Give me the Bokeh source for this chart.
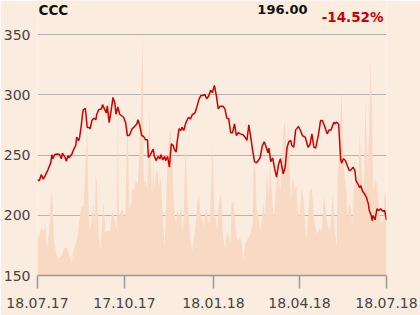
import pandas as pd
from bokeh.plotting import figure
from bokeh.models import Range1d, FixedTicker, DatetimeTickFormatter, Label
from bokeh.embed import file_html
from bokeh.resources import INLINE

# ---- data ----
start_date = "2017-07-18"
end_date = "2018-07-18"
title_text = "CCC"
last_price_text = "196.00"
change_text = "-14.52%"

price_days = [0, 2, 4, 6, 8, 11, 14, 15, 16, 18, 21, 23, 25, 26, 29, 30, 32, 33, 36, 38,
              40, 41, 43, 44, 46, 47, 48, 50, 52, 54, 55, 57, 59, 61, 62, 64, 67, 68, 70, 72,
              73, 75, 77, 79, 81, 82, 84, 86, 90, 92, 94, 96, 99, 101, 104, 105, 107, 109, 111, 113,
              115, 116, 118, 121, 122, 124, 126, 128, 129, 131, 133, 134, 136, 138, 139, 140, 142, 143, 145, 146,
              148, 150, 151, 153, 155, 157, 158, 160, 162, 163, 165, 167, 169, 171, 173, 175, 177, 179, 181, 183,
              185, 187, 189, 191, 194, 196, 198, 200, 202, 204, 206, 208, 210, 212, 215, 217, 219, 221, 223, 225,
              227, 229, 231, 233, 235, 237, 238, 241, 242, 244, 246, 248, 250, 252, 254, 257, 259, 261, 263, 265,
              266, 268, 270, 273, 275, 277, 280, 283, 285, 287, 289, 291, 294, 296, 298, 300, 303, 305, 307, 310,
              311, 313, 315, 317, 318, 320, 322, 324, 326, 328, 330, 332, 333, 335, 337, 338, 340, 342, 344, 346,
              347, 349, 350, 351, 353, 355, 357, 359, 361, 363, 365]
price = [229.3, 229, 234, 230, 233, 238, 244, 250.5, 247, 250.5, 251, 250.5, 247, 251.6, 248, 245, 249.7, 247.8, 251, 255,
         258, 265, 262, 264.5, 276, 284, 287.7, 289, 273, 273, 272, 279, 280.7, 279.4, 284, 287.7, 288.5, 292, 288.5, 285,
         291, 277, 287, 298, 292.7, 284, 290, 284, 281.5, 277.4, 266.3, 266.3, 272, 273.3, 276, 279.4, 274.6, 266.3, 265.5, 262.7,
         262.7, 248, 250.5, 255, 249.7, 245.5, 248.9, 247, 250.5, 246, 248.9, 245.5, 248.9, 240, 251, 259.4, 258, 255, 252.5, 260.8,
         272, 270.5, 273.3, 270.5, 276.6, 280, 281.5, 280, 284, 284, 285.7, 291, 296.8, 299.6, 299.6, 300.4, 297, 299, 304, 302,
         308, 299.6, 288.5, 290.7, 290.7, 288.5, 280.7, 280.2, 268.6, 268.6, 276, 266.3, 268.6, 267.7, 266.9, 264.9, 262.2, 275.2, 264.9, 253.9,
         244.7, 243.6, 245.5, 248.3, 257.4, 261, 259.4, 252, 255.8, 244.7, 247.5, 238.8, 231.7, 242, 247, 234.5, 240, 256.6, 261.3, 262,
         258, 256.6, 271, 273.8, 270.5, 266.3, 264.9, 256.6, 258.8, 267.7, 256.6, 256, 267.7, 278.8, 278.8, 274.6, 267.7, 271, 271, 277.4,
         276, 277.4, 275.5, 247, 243.4, 247, 245.5, 241.4, 237.2, 237.8, 240, 237.2, 229, 226.2, 222.9, 224.8, 220, 217.9, 215, 209.5,
         204, 199.9, 195.7, 199.9, 196.3, 205.4, 204, 205.4, 203.4, 204, 196]

volume_days = [0, 2, 4, 7, 8, 9, 10, 12, 14, 15, 16, 17, 19, 21, 22, 24, 26, 28, 31, 33,
               36, 37, 40, 42, 44, 46, 47, 48, 50, 52, 53, 54, 56, 58, 59, 60, 61, 62, 64, 66,
               68, 69, 71, 73, 75, 76, 78, 79, 81, 83, 84, 85, 87, 89, 91, 92, 94, 96, 98, 99,
               101, 103, 105, 106, 108, 110, 111, 112, 113, 115, 117, 118, 120, 121, 122, 124, 126, 127, 129, 131,
               133, 134, 136, 138, 139, 141, 143, 145, 146, 148, 150, 152, 153, 155, 157, 159, 160, 162, 164, 166,
               167, 169, 171, 173, 174, 176, 178, 180, 181, 183, 185, 186, 188, 190, 192, 194, 196, 197, 199, 202,
               203, 205, 207, 208, 210, 212, 214, 215, 217, 219, 221, 223, 225, 226, 228, 229, 231, 233, 235, 236,
               238, 240, 242, 243, 245, 247, 249, 250, 252, 254, 256, 257, 259, 260, 262, 264, 265, 267, 269, 271,
               272, 274, 276, 278, 280, 281, 283, 285, 287, 288, 290, 292, 294, 295, 297, 299, 300, 302, 304, 306,
               307, 309, 311, 313, 314, 316, 318, 319, 321, 323, 324, 326, 328, 329, 331, 333, 335, 336, 337, 339,
               341, 342, 343, 345, 347, 348, 350, 351, 353, 355, 356, 358, 360, 362, 363, 365]
volume = [30.5, 33, 40, 37, 43, 32, 22, 35, 62, 72, 60, 29, 21, 13, 15, 15, 18, 23, 23, 16.6,
          11, 18, 26.6, 32, 48, 58, 57, 58, 87, 123, 73, 39, 41.5, 58, 57, 36, 83, 79, 30.5, 22,
          48, 62, 36, 37, 37, 37, 52.6, 54, 44, 39, 143, 48, 54, 54, 48, 52.6, 137, 54, 60, 73,
          71, 79, 75, 93, 134, 198, 87, 73, 79, 71, 140, 98, 65, 93, 71, 87, 85, 73, 82, 48,
          23.5, 48, 93, 118, 123, 93, 54, 43, 54, 48, 57, 37, 54, 110, 60, 40, 26, 21, 32, 48,
          60, 68, 48, 46, 40, 57, 46, 43, 60, 110, 48, 48, 37, 62, 68, 32, 23.5, 29, 37, 26,
          61, 60, 43, 32, 29, 32, 23.5, 12.5, 26, 29, 32, 34.6, 43, 93, 87, 57, 48, 37, 48, 60,
          48, 87, 65, 93, 71, 48, 65, 76, 87, 68, 98, 120, 129, 93, 126, 87, 60, 82, 71, 75,
          55, 48, 73, 65, 43, 29, 48, 71, 73, 60, 43, 34.6, 37, 40, 34.6, 60, 65, 48, 40, 37,
          48, 68, 37, 23.5, 85, 112, 156, 118, 82, 71, 48, 60, 54, 43, 71, 87, 71, 93, 118, 85,
          60, 93, 148, 85, 120, 178, 134, 68, 80, 76, 65, 48, 43, 48, 68, 65]

y_ticks = [150, 200, 250, 300, 350]
x_tick_dates = ["2017-07-18", "2017-10-17", "2018-01-18", "2018-04-18", "2018-07-18"]

# ---- derived ----
base = pd.Timestamp(start_date)
price_dates = base + pd.to_timedelta(price_days, unit="D")
volume_dates = base + pd.to_timedelta(volume_days, unit="D")
x_ticks_ms = [pd.Timestamp(d).value / 1e6 for d in x_tick_dates]

BG = "#FBECE0"
AREA = "#F7D9C4"
RED = "#CC0000"
FONT = "DejaVu Sans"

# the frame reaches the top of the canvas so the header texts sit inside it
y_top = 150 + 275 / 1.2035

p = figure(width=420, height=315, x_axis_type="datetime",
           x_range=Range1d(pd.Timestamp(start_date), pd.Timestamp(end_date)),
           y_range=Range1d(150, y_top),
           output_backend="svg", toolbar_location=None,
           background_fill_color=BG, border_fill_color=BG,
           min_border_left=37, min_border_right=34, min_border_top=0, min_border_bottom=40)
p.outline_line_color = None
p.extra_y_ranges = {"vol": Range1d(0, y_top - 150)}

p.varea(x=volume_dates, y1=0, y2=volume, y_range_name="vol", fill_color=AREA, fill_alpha=1.0)
p.line(price_dates, price, line_color=RED, line_width=1.5)

# axes
p.xgrid.visible = False
p.ygrid.grid_line_color = "#B3B3B3"
p.ygrid.grid_line_width = 1
p.ygrid.ticker = FixedTicker(ticks=y_ticks)

p.yaxis.ticker = FixedTicker(ticks=y_ticks)
p.yaxis.axis_line_color = None
p.yaxis.major_tick_line_color = None
p.yaxis.major_tick_in = 0
p.yaxis.major_tick_out = 0
p.yaxis.minor_tick_line_color = None
p.yaxis.minor_tick_in = 0
p.yaxis.minor_tick_out = 0
p.yaxis.major_label_text_font = FONT
p.yaxis.major_label_text_font_size = "14px"
p.yaxis.major_label_text_color = "#444444"
p.yaxis.major_label_standoff = 7

p.xaxis.ticker = FixedTicker(ticks=x_ticks_ms)
fmt = "%d.%m.%y"
p.xaxis.formatter = DatetimeTickFormatter(milliseconds=fmt, seconds=fmt, minsec=fmt, minutes=fmt,
                                          hourmin=fmt, hours=fmt, days=fmt, months=fmt, years=fmt)
p.xaxis.axis_line_color = "#999999"
p.xaxis.axis_line_width = 1.5
p.xaxis.major_tick_line_color = "#999999"
p.xaxis.major_tick_line_width = 1.5
p.xaxis.major_tick_in = 0
p.xaxis.major_tick_out = 13
p.xaxis.minor_tick_line_color = None
p.xaxis.major_label_text_font = FONT
p.xaxis.major_label_text_font_size = "14px"
p.xaxis.major_label_text_color = "#444444"
p.xaxis.major_label_standoff = 9

# header texts (screen units, measured from the frame's bottom-left)
p.add_layout(Label(x=1, y=265.5, x_units="screen", y_units="screen", text=title_text,
                   text_font=FONT, text_font_style="bold", text_font_size="13.5px",
                   text_color="#111111", text_baseline="middle", text_align="left"))
p.add_layout(Label(x=270, y=266, x_units="screen", y_units="screen", text=last_price_text,
                   text_font=FONT, text_font_style="bold", text_font_size="13px",
                   text_color="#111111", text_baseline="middle", text_align="right"))
p.add_layout(Label(x=346, y=258.3, x_units="screen", y_units="screen", text=change_text,
                   text_font=FONT, text_font_style="bold", text_font_size="13.5px",
                   text_color=RED, text_baseline="middle", text_align="right"))

open("out.html", "w").write(file_html(p, INLINE))
